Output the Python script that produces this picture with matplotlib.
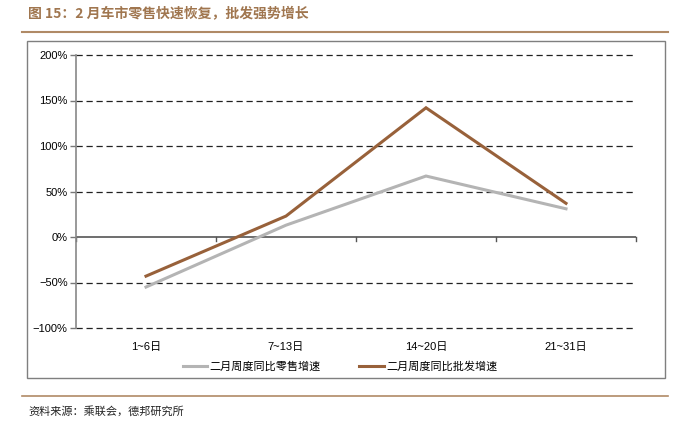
import matplotlib
matplotlib.use("Agg")
import matplotlib.pyplot as plt
from matplotlib.patches import Rectangle
from matplotlib.lines import Line2D
import numpy as np

categories = ["1~6日", "7~13日", "14~20日", "21~31日"]
retail = [-55, 13, 67, 31]
wholesale = [-43, 23, 142, 37]
series_names = ["二月周度同比零售增速", "二月周度同比批发增速"]
yticks = [-100, -50, 0, 50, 100, 150, 200]

CJK = ["Noto Sans CJK SC", "DejaVu Sans"]
LAT = ["Liberation Sans", "Noto Sans CJK SC", "DejaVu Sans"]
plt.rcParams['font.family'] = CJK
plt.rcParams['axes.unicode_minus'] = True

W, H = 676, 421
fig = plt.figure(figsize=(W/100, H/100), dpi=100)

def fx(x): return x / W
def fy(y): return 1 - y / H

# title
fig.text(fx(28), fy(14), "图 15：2 月车市零售快速恢复，批发强势增长", color="#a0764f",
         fontsize=10, fontweight="bold", va="center", ha="left", family=CJK)
fig.add_artist(Line2D([fx(22), fx(668)], [fy(32), fy(32)], color="#b08a66", lw=1.5))
# frame
fig.add_artist(Rectangle((fx(27), fy(378)), fx(665) - fx(27), fy(41) - fy(378),
                         fill=False, edgecolor="#7f7f7f", lw=1))
# footer
fig.add_artist(Line2D([fx(22), fx(668)], [fy(396), fy(396)], color="#b08a66", lw=1.2))
fig.text(fx(28), fy(411), "资料来源：乘联会，德邦研究所", fontsize=8, va="center", ha="left",
         color="#222222", family=CJK)

ax = fig.add_axes([fx(76), fy(328), fx(636) - fx(76), fy(55) - fy(328)])
x = np.arange(len(categories))
ax.set_xlim(-0.5, len(categories) - 0.5)
ax.set_ylim(-100, 200)

for v in yticks:
    if v == 0:
        continue
    ax.axhline(v, color="#222222", lw=0.9, ls=(0, (5, 3)), zorder=1, clip_on=False)
ax.axhline(0, color="#555555", lw=1.2, zorder=2)
for bx in np.arange(-0.5, len(categories), 1.0):
    ax.plot([bx, bx], [0, -4], color="#555555", lw=1, zorder=2, clip_on=False)

l1, = ax.plot(x, retail, color="#b4b4b4", lw=2.2, zorder=3, solid_joinstyle="miter")
l2, = ax.plot(x, wholesale, color="#98613a", lw=2.2, zorder=4, solid_joinstyle="miter")

ax.set_yticks(yticks)
ax.set_yticklabels([f"{v}%".replace("-", "−") for v in yticks], family=LAT, fontsize=8)
ax.tick_params(axis="y", length=4, color="#777777", width=1, pad=2)
ax.set_xticks(x)
ax.set_xticklabels(categories, family=LAT, fontsize=8)
ax.tick_params(axis="x", length=0, pad=10)
for s in ["top", "right", "bottom"]:
    ax.spines[s].set_visible(False)
ax.spines["left"].set_color("#888888")
ax.spines["left"].set_linewidth(1.2)
ax.spines["left"].set_zorder(5)

fig.legend([l1, l2], series_names, loc="center", bbox_to_anchor=(fx(340), fy(367)),
           ncol=2, frameon=False, handlelength=2.2, handletextpad=0.2,
           columnspacing=3.5, prop={"family": CJK, "size": 8})

fig.savefig("out.png", dpi=100)
